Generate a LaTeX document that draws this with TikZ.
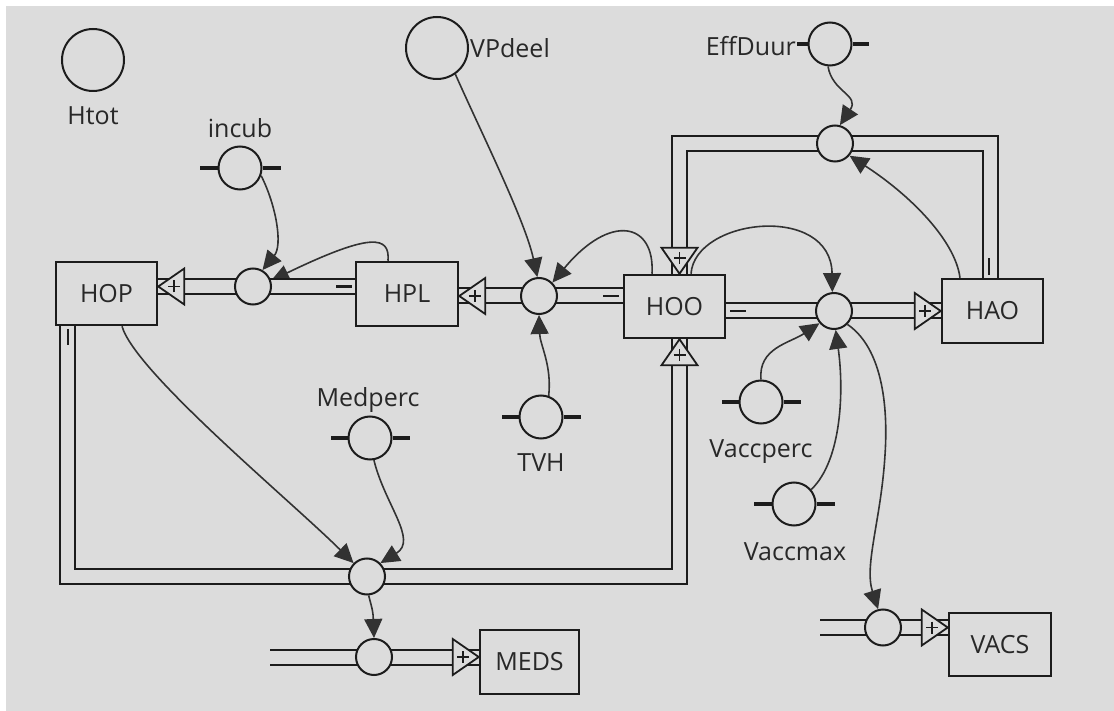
\documentclass[tikz,border=0pt]{standalone}
\usepackage{fontspec}
\setmainfont{Open Sans}
\usetikzlibrary{arrows.meta,calc}
\definecolor{bg}{RGB}{220,220,220}
\definecolor{ln}{RGB}{28,28,28}
\definecolor{lk}{RGB}{50,50,50}
\definecolor{tx}{RGB}{40,40,40}
\pgfdeclarelayer{back}
\pgfdeclarelayer{pipes}
\pgfsetlayers{back,pipes,main}
\begin{document}
\begin{tikzpicture}[x=1pt,y=-1pt, font=\fontsize{25pt}{30pt}\selectfont, text=tx,
 stock/.style={draw=ln, fill=bg, line width=2.5pt, rectangle, inner sep=0pt},
 valve/.style={draw=ln, fill=bg, circle, line width=2pt, minimum size=36pt, inner sep=0pt},
 aux/.style={draw=ln, fill=bg, circle, line width=2pt, minimum size=43pt, inner sep=0pt},
 bigaux/.style={draw=ln, fill=bg, circle, line width=2pt, minimum size=62pt, inner sep=0pt},
 lbl/.style={inner sep=0pt},
 tab/.style={draw=ln, line width=4.5pt},
 pipe/.style={draw=ln, line width=2pt, double=bg, double distance=13pt},
 minussign/.style={draw=ln, line width=2.6pt},
 link/.style={draw=lk, line width=1.6pt, -{Triangle[length=19pt,width=18pt]}},
 smalllink/.style={draw=lk, line width=1.6pt, -{Triangle[length=18pt,width=16pt]}},
 flowtip/.pic={\draw[draw=ln, fill=bg, line width=1.8pt, line join=miter] (0,0) -- (-26,-18) -- (-26,18) -- cycle;
   \draw[draw=ln, line width=1.7pt] (-15.5,-6) -- (-15.5,6) (-21.5,0) -- (-9.5,0);}
]
\useasboundingbox (0,0) rectangle (1114,711);
\begin{pgfonlayer}{back}
\fill[white] (0,0) rectangle (1114,711);
\fill[bg] (6,6) rectangle (1114,711);
\end{pgfonlayer}

% stocks
\node[stock, minimum width=101pt, minimum height=63pt] (HOP) at (106.5,293.5) {HOP};
\node[stock, minimum width=102pt, minimum height=64pt] (HPL) at (407,294) {HPL};
\node[stock, minimum width=101pt, minimum height=63pt] (HOO) at (674.5,306.5) {HOO};
\node[stock, minimum width=101pt, minimum height=64pt] (HAO) at (992.5,311) {HAO};
\node[stock, minimum width=99pt, minimum height=64pt] (MEDS) at (529.5,662) {MEDS};
\node[stock, minimum width=102pt, minimum height=63pt] (VACS) at (1000,644.5) {VACS};

% valves
\node[valve] (vHOP) at (253,286.5) {};
\node[valve] (vHOO) at (539,296) {};
\node[valve] (vHAO) at (834,311) {};
\node[valve] (vTop) at (835,143.5) {};
\node[valve] (vBot) at (367,576.5) {};
\node[valve] (vMEDS) at (374,657) {};
\node[valve] (vVACS) at (883,627.5) {};

% free pipe ends
\coordinate (medsSrc) at (270,657);
\coordinate (vacsSrc) at (820,627.5);

% pipes
\begin{pgfonlayer}{pipes}
\draw[smalllink] ([xshift=-19pt]HPL.north) .. controls (390,236) and (372,232) .. (vHOP.18);
\draw[pipe] (HPL.west |- vHOP.center) -- (HOP.east |- vHOP.center);
\draw[pipe] (HOO.west |- vHOO.center) -- (HPL.east |- vHOO.center);
\draw[pipe] (HOO.east |- vHAO.center) -- (HAO.west |- vHAO.center);
\draw[pipe] ([xshift=-2pt]HAO.north) |- (vTop.center) -| ([xshift=5pt]HOO.north);
\draw[pipe] ([xshift=-39pt]HOP.south) |- (vBot.center) -| ([xshift=5pt]HOO.south);
\draw[pipe] (medsSrc) -- (MEDS.west |- vMEDS.center);
\draw[pipe] (vacsSrc) -- (VACS.west |- vVACS.center);
\end{pgfonlayer}

% flow arrow heads
\pic[rotate=180] at (HOP.east |- vHOP.center) {flowtip};
\pic[rotate=180] at (HPL.east |- vHOO.center) {flowtip};
\pic at (HAO.west |- vHAO.center) {flowtip};
\pic[rotate=-90] at ([xshift=5pt]HOO.north) {flowtip};
\pic[rotate=90] at ([xshift=5pt]HOO.south) {flowtip};
\pic at (MEDS.west |- vMEDS.center) {flowtip};
\pic at (VACS.west |- vVACS.center) {flowtip};

% minus signs
\draw[minussign] ([xshift=-3pt]HPL.west |- vHOP.center) -- ++(-16,0);
\draw[minussign] ([xshift=-4pt]HOO.west |- vHOO.center) -- ++(-16,0);
\draw[minussign] ([xshift=4pt]HOO.east |- vHAO.center) -- ++(16,0);
\draw[minussign] ([xshift=-3.5pt,yshift=3pt]HAO.north) -- ++(0,-17);
\draw[minussign] ([xshift=-38.5pt,yshift=-3pt]HOP.south) -- ++(0,16);

% auxiliaries
\node[bigaux] (Htot) at (93,60) {};
\node[lbl] (HtotL) at (93,116) {Htot};
\node[bigaux] (VPdeel) at (437,48) {};
\node[lbl, anchor=west] (VPdeelL) at (470,48) {VPdeel};
\node[aux] (incub) at (240,168) {};
\node[lbl] (incubL) at (240,128) {incub};
\node[aux] (EffDuur) at (830,44) {};
\node[lbl, anchor=east] (EffDuurL) at (796,46) {EffDuur};
\node[aux] (Medperc) at (370,438) {};
\node[lbl] (MedpercL) at (368,400) {Medperc};
\node[aux] (TVH) at (541,417) {};
\node[lbl] (TVHL) at (541,463) {TVH};
\node[aux] (Vaccperc) at (761,402) {};
\node[lbl] (VaccpercL) at (761,452) {Vaccperc};
\node[aux] (Vaccmax) at (794,504) {};
\node[lbl] (VaccmaxL) at (795,552) {Vaccmax};

% tabs
\foreach \n/\l/\r in {incub/18/18, EffDuur/11/16, Medperc/17/17, TVH/17/17, Vaccperc/17/17, Vaccmax/18/18}{
  \draw[tab] (\n.west) -- ++(-\l,0);
  \draw[tab] (\n.east) -- ++(\r,0);
}

% links
\draw[link] (incub.-20) .. controls (276,205) and (283,245) .. (vHOP.60);
\draw[link] (VPdeel.-55) .. controls (480,130) and (525,220) .. (vHOO.95);
\draw[link] ([xshift=-22.5pt]HOO.north) .. controls (655,222) and (610,213) .. (vHOO.45);
\draw[link] ([xshift=16.5pt]HOO.north) .. controls (695,218) and (831,203) .. (vHAO.95);
\draw[link] ([xshift=-32.5pt]HAO.north) .. controls (955,240) and (910,195) .. (vTop.-40);
\draw[link] (EffDuur.-95) .. controls (832,92) and (860,95) .. (vTop.75);
\draw[link] (TVH.70) .. controls (552,365) and (540,345) .. (vHOO.-90);
\draw[link] (Vaccperc.90) .. controls (758,348) and (790,343) .. (vHAO.-140);
\draw[link] (Vaccmax.40) .. controls (842,460) and (844,390) .. (vHAO.-85);
\draw[link] (vHAO.-45) .. controls (878,345) and (889,395) .. (885,455) .. controls (881,520) and (864,565) .. (vVACS.105);
\draw[link] ([xshift=15.5pt]HOP.south) .. controls (135,372) and (290,500) .. (vBot.135);
\draw[link] (Medperc.-80) .. controls (385,505) and (418,540) .. (vBot.45);
\draw[link] (vBot.-85) .. controls (373,612) .. (vMEDS.90);
\end{tikzpicture}
\end{document}
